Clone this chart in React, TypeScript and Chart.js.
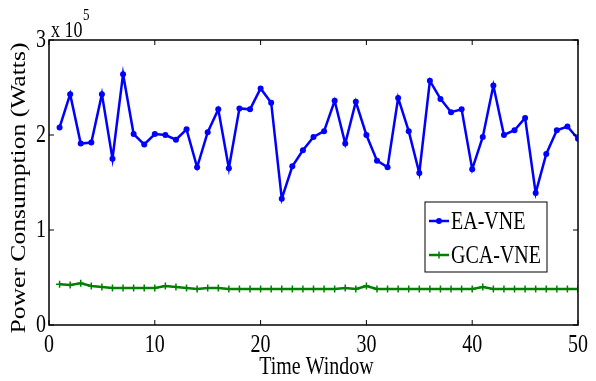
import React, { useEffect, useRef } from "react";
import { Chart, registerables } from "chart.js";

Chart.register(...registerables);

const timeWindows: number[] = Array.from({ length: 50 }, (_, i) => i + 1);

// values in units of 1e5 Watts
const eaVne: number[] = [
  2.08, 2.43, 1.91, 1.92, 2.43, 1.75, 2.64, 2.01, 1.90, 2.01,
  2.00, 1.95, 2.06, 1.66, 2.03, 2.27, 1.65, 2.28, 2.27, 2.49,
  2.34, 1.33, 1.67, 1.84, 1.98, 2.04, 2.36, 1.91, 2.35, 2.00,
  1.73, 1.66, 2.39, 2.04, 1.60, 2.57, 2.38, 2.24, 2.27, 1.64,
  1.98, 2.52, 2.00, 2.05, 2.18, 1.39, 1.80, 2.05, 2.09, 1.96,
];

const gcaVne: number[] = [
  0.43, 0.42, 0.44, 0.41, 0.40, 0.39, 0.39, 0.39, 0.39, 0.39,
  0.41, 0.40, 0.39, 0.38, 0.39, 0.39, 0.38, 0.38, 0.38, 0.38,
  0.38, 0.38, 0.38, 0.38, 0.38, 0.38, 0.38, 0.39, 0.38, 0.41,
  0.38, 0.38, 0.38, 0.38, 0.38, 0.38, 0.38, 0.38, 0.38, 0.38,
  0.40, 0.38, 0.38, 0.38, 0.38, 0.38, 0.38, 0.38, 0.38, 0.38,
];

const xTicks: number[] = [0, 10, 20, 30, 40, 50];
const yTicks: number[] = [0, 1, 2, 3];
const seriesNames: string[] = ["EA-VNE", "GCA-VNE"];
const seriesColors: string[] = ["#0000ff", "#008000"];
const xTitle = "Time Window";
const yTitle = "Power Consumption (Watts)";

const FONT = "Liberation Serif, Times New Roman, serif";
const STRETCH = 1.28;

function stext(
  ctx: CanvasRenderingContext2D,
  text: string,
  x: number,
  y: number,
  align: CanvasTextAlign,
  baseline: CanvasTextBaseline,
  size = 20
) {
  ctx.save();
  ctx.translate(x, y);
  ctx.scale(1, STRETCH);
  ctx.font = `${size}px ${FONT}`;
  ctx.fillStyle = "#000";
  ctx.textAlign = align;
  ctx.textBaseline = baseline;
  ctx.fillText(text, 0, 0);
  ctx.restore();
}

const decorPlugin = {
  id: "decor",
  afterDraw(chart: any) {
    const ctx: CanvasRenderingContext2D = chart.ctx;
    const xs = chart.scales.x;
    const ys = chart.scales.y;
    const { left, right, top, bottom } = chart.chartArea;
    ctx.save();
    // box
    ctx.strokeStyle = "#000";
    ctx.lineWidth = 1.5;
    ctx.strokeRect(left, top, right - left, bottom - top);
    // inward ticks
    ctx.lineWidth = 1;
    const tl = 5;
    ctx.beginPath();
    xTicks.forEach((v) => {
      const px = xs.getPixelForValue(v);
      ctx.moveTo(px, bottom);
      ctx.lineTo(px, bottom - tl);
      ctx.moveTo(px, top);
      ctx.lineTo(px, top + tl);
    });
    yTicks.forEach((v) => {
      const py = ys.getPixelForValue(v);
      ctx.moveTo(left, py);
      ctx.lineTo(left + tl, py);
      ctx.moveTo(right, py);
      ctx.lineTo(right - tl, py);
    });
    ctx.stroke();
    // tick labels
    xTicks.forEach((v) => {
      stext(ctx, String(v), xs.getPixelForValue(v), bottom + 7, "center", "top");
    });
    yTicks.forEach((v) => {
      stext(ctx, String(v), left - 3, ys.getPixelForValue(v), "right", "middle");
    });
    // exponent
    stext(ctx, "x 10", 51, 37, "left", "alphabetic", 18);
    stext(ctx, "5", 83, 20, "left", "alphabetic", 13);
    // axis titles
    stext(ctx, xTitle, (left + right) / 2 + 3, bottom + 29, "center", "top");
    ctx.save();
    ctx.translate(20, 188);
    ctx.rotate(-Math.PI / 2);
    ctx.scale(STRETCH, 1);
    ctx.font = `20px ${FONT}`;
    ctx.fillStyle = "#000";
    ctx.textAlign = "center";
    ctx.textBaseline = "middle";
    ctx.fillText(yTitle, 0, 0);
    ctx.restore();
    // legend
    const lx = 425, ly = 202, lw = 122, lh = 70;
    ctx.fillStyle = "#fff";
    ctx.fillRect(lx, ly, lw, lh);
    ctx.strokeStyle = "#000";
    ctx.lineWidth = 1;
    ctx.strokeRect(lx, ly, lw, lh);
    const rowsY = [221, 255];
    seriesNames.forEach((name, i) => {
      const y = rowsY[i];
      ctx.strokeStyle = seriesColors[i];
      ctx.fillStyle = seriesColors[i];
      ctx.lineWidth = 2.5;
      ctx.beginPath();
      ctx.moveTo(429, y);
      ctx.lineTo(449, y);
      ctx.stroke();
      if (i === 0) {
        ctx.beginPath();
        ctx.arc(439, y, 3, 0, Math.PI * 2);
        ctx.fill();
      } else {
        ctx.lineWidth = 1.5;
        ctx.beginPath();
        ctx.moveTo(439, y - 3.5);
        ctx.lineTo(439, y + 3.5);
        ctx.stroke();
      }
      stext(ctx, name, 451, y + 1, "left", "middle");
    });
    ctx.restore();
  },
};

export default function App() {
  const ref = useRef<HTMLCanvasElement | null>(null);
  useEffect(() => {
    if (!ref.current) return;
    const chart = new Chart(ref.current, {
      type: "line",
      data: {
        datasets: [
          {
            label: seriesNames[0],
            data: timeWindows.map((t, i) => ({ x: t, y: eaVne[i] })),
            borderColor: seriesColors[0],
            backgroundColor: seriesColors[0],
            borderWidth: 2.5,
            pointStyle: "circle",
            pointRadius: 3,
            pointBorderWidth: 0,
            tension: 0,
          },
          {
            label: seriesNames[1],
            data: timeWindows.map((t, i) => ({ x: t, y: gcaVne[i] })),
            borderColor: seriesColors[1],
            backgroundColor: seriesColors[1],
            borderWidth: 2.5,
            pointStyle: "cross",
            pointRadius: 3.5,
            pointBorderWidth: 1.5,
            tension: 0,
          },
        ],
      },
      options: {
        animation: false,
        responsive: false,
        devicePixelRatio: 1,
        layout: { padding: { left: 0, right: 18, top: 40, bottom: 0 } },
        plugins: { legend: { display: false }, tooltip: { enabled: false } },
        scales: {
          x: {
            type: "linear",
            min: 0,
            max: 50,
            ticks: { display: false, stepSize: 10 },
            grid: { display: false },
            border: { display: false },
            afterFit: (s: any) => {
              s.height = 56;
            },
          },
          y: {
            type: "linear",
            min: 0,
            max: 3,
            ticks: { display: false, stepSize: 1 },
            grid: { display: false },
            border: { display: false },
            afterFit: (s: any) => {
              s.width = 49;
            },
          },
        },
      },
      plugins: [decorPlugin],
    } as any);
    return () => chart.destroy();
  }, []);
  return (
    <div style={{ position: "fixed", left: 0, top: 0, width: 596, height: 381, background: "#fff" }}>
      <canvas ref={ref} width={596} height={381} style={{ width: 596, height: 381 }} />
    </div>
  );
}
